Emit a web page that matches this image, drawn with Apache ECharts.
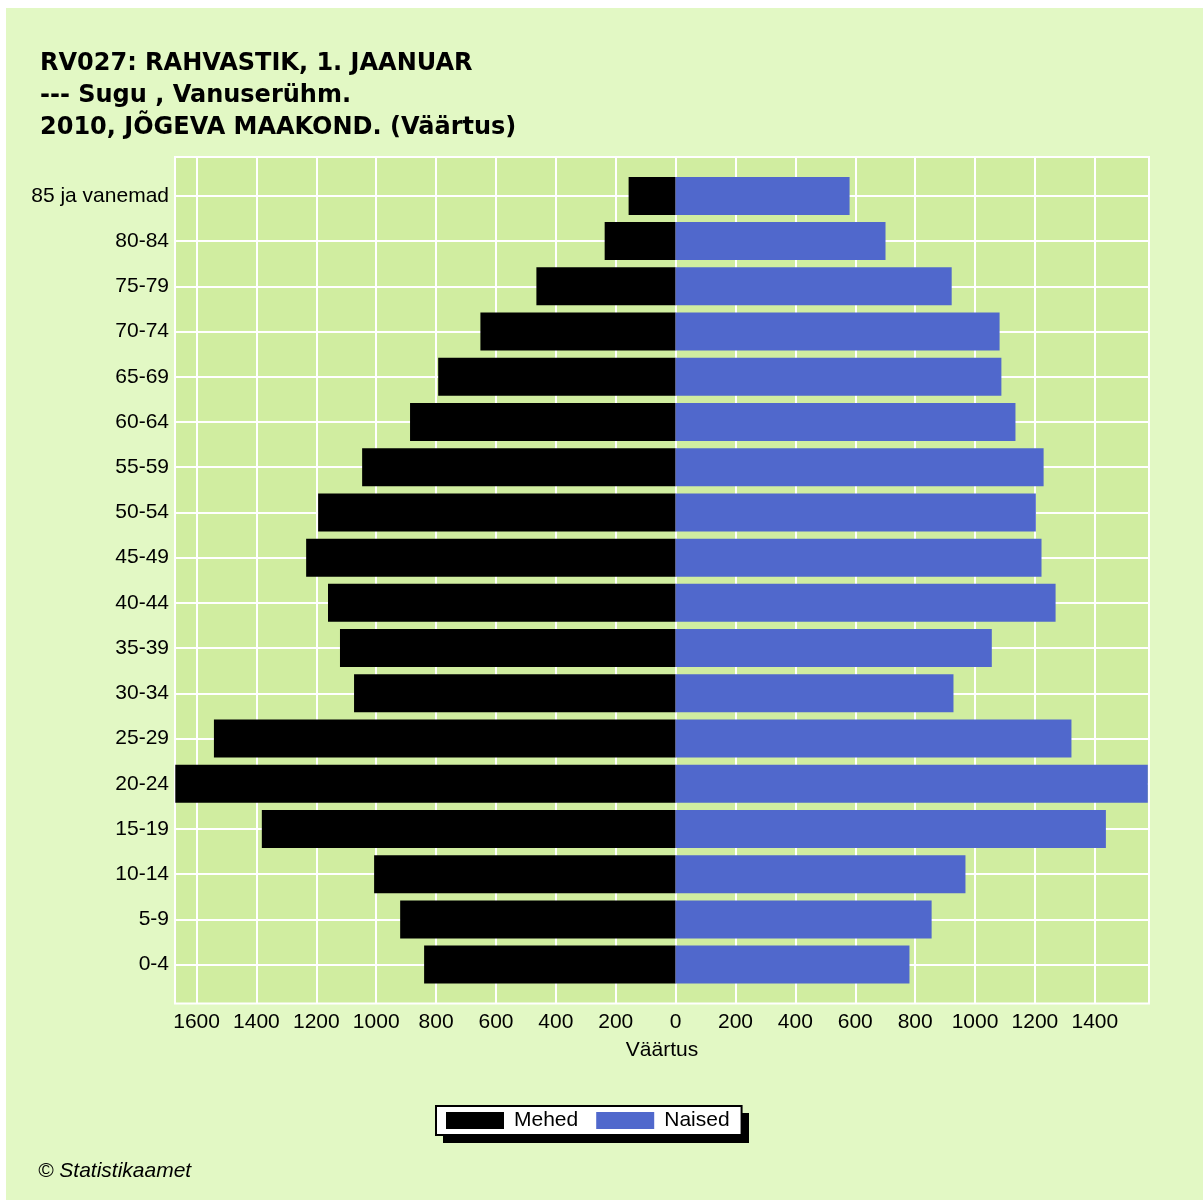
<!DOCTYPE html>
<html style="height: 100%">
<head>
<meta charset="utf-8">
</head>
<body style="height: 100%; margin: 0; background: #fff">
<div id="container" style="width: 1203px; height: 1200px"></div>
<script src="https://cdn.jsdelivr.net/npm/echarts@6/dist/echarts.min.js"></script>
<script type="text/javascript">
// age groups, bottom to top
var ages = ['0-4', '5-9', '10-14', '15-19', '20-24', '25-29', '30-34', '35-39', '40-44',
            '45-49', '50-54', '55-59', '60-64', '65-69', '70-74', '75-79', '80-84', '85 ja vanemad'];
var males = [840, 920, 1007, 1382, 1671, 1542, 1074, 1121, 1161, 1234, 1194, 1047, 887, 793, 652, 465, 237, 157];
var females = [781, 855, 968, 1437, 1577, 1322, 928, 1056, 1269, 1222, 1203, 1229, 1135, 1088, 1082, 922, 701, 581];
var xTicks = [-1600, -1400, -1200, -1000, -800, -600, -400, -200, 0, 200, 400, 600, 800, 1000, 1200, 1400];
var xMin = -1672, xMax = 1581;

var dom = document.getElementById('container');
var myChart = echarts.init(dom);

// plot area
var gTop = 157, gBottom = 196.5, gLeft = 175, gRight = 54;
var yPad = 0.86;
var plotH = 1200 - gTop - gBottom;
var unit = plotH / (ages.length - 1 + 2 * yPad);
var inner = (yPad - 0.5) * unit;
var yTicks = ages.map(function (a, i) { return i; });

var font = 'Liberation Sans, Arial, sans-serif';

var option = {
    backgroundColor: '#fff',
    animation: false,
    graphic: [{
        type: 'rect', z: -10, silent: true,
        shape: { x: 6, y: 8, width: 1197, height: 1192 },
        style: { fill: '#e2f8c4' }
    }, {
        // legend drop shadow
        type: 'rect', z: 1, silent: true,
        shape: { x: 443, y: 1113, width: 306, height: 30 },
        style: { fill: '#000' }
    }],
    title: [{
        left: 40, top: 48,
        text: 'RV027: RAHVASTIK, 1. JAANUAR\n--- Sugu , Vanuserühm.\n2010, JÕGEVA MAAKOND. (Väärtus)',
        padding: 0,
        textStyle: { fontFamily: 'DejaVu Sans', fontWeight: 'bold', fontSize: 24, lineHeight: 32, color: '#000' }
    }, {
        left: 38, top: 1161, padding: 0,
        text: '© Statistikaamet',
        textStyle: { fontFamily: font, fontStyle: 'italic', fontWeight: 'normal', fontSize: 21, color: '#000' }
    }],
    legend: {
        data: ['Mehed', 'Naised'],
        left: 436, top: 1106, z: 5,
        orient: 'horizontal',
        icon: 'rect',
        itemWidth: 58, itemHeight: 17, itemGap: 18,
        padding: [4, 12, 4, 10],
        backgroundColor: '#fff',
        borderColor: '#000', borderWidth: 2,
        textStyle: { fontFamily: font, fontSize: 21, color: '#000', padding: [2, 0, 0, 5] }
    },
    grid: [{
        left: gLeft, right: gRight, top: gTop, bottom: gBottom,
        show: true, backgroundColor: '#d0eda0', borderColor: '#fff', borderWidth: 2
    }, {
        left: gLeft, right: gRight, top: gTop + inner, bottom: gBottom + inner
    }],
    xAxis: [{
        gridIndex: 0, type: 'value', min: xMin, max: xMax,
        name: 'Väärtus', nameLocation: 'middle', nameGap: 36,
        nameTextStyle: { fontFamily: font, fontSize: 21, color: '#000' },
        axisLine: { show: false },
        axisTick: { show: false, customValues: xTicks },
        axisLabel: {
            customValues: xTicks, margin: 8,
            fontFamily: font, fontSize: 21, color: '#000',
            formatter: function (v) { return String(Math.abs(v)); }
        },
        splitLine: { show: true, lineStyle: { color: '#fff', width: 2 } }
    }, {
        gridIndex: 1, type: 'value', min: xMin, max: xMax, show: false,
        splitLine: { show: false }
    }],
    yAxis: [{
        gridIndex: 0, type: 'value', min: -yPad, max: ages.length - 1 + yPad,
        axisLine: { show: false },
        axisTick: { show: false, customValues: yTicks },
        axisLabel: {
            customValues: yTicks, margin: 6,
            fontFamily: font, fontSize: 21, color: '#000',
            formatter: function (v) { return ages[Math.round(v)]; }
        },
        splitLine: { show: true, lineStyle: { color: '#fff', width: 2 } }
    }, {
        gridIndex: 1, type: 'category', data: ages, show: false
    }],
    series: [{
        name: 'Mehed', type: 'bar', xAxisIndex: 1, yAxisIndex: 1, stack: 'pop',
        barWidth: 38,
        itemStyle: { color: '#000' },
        data: males.map(function (v) { return -v; })
    }, {
        name: 'Naised', type: 'bar', xAxisIndex: 1, yAxisIndex: 1, stack: 'pop',
        barWidth: 38,
        itemStyle: { color: '#5068cc' },
        data: females
    }]
};
myChart.setOption(option);
</script>
</body>
</html>
